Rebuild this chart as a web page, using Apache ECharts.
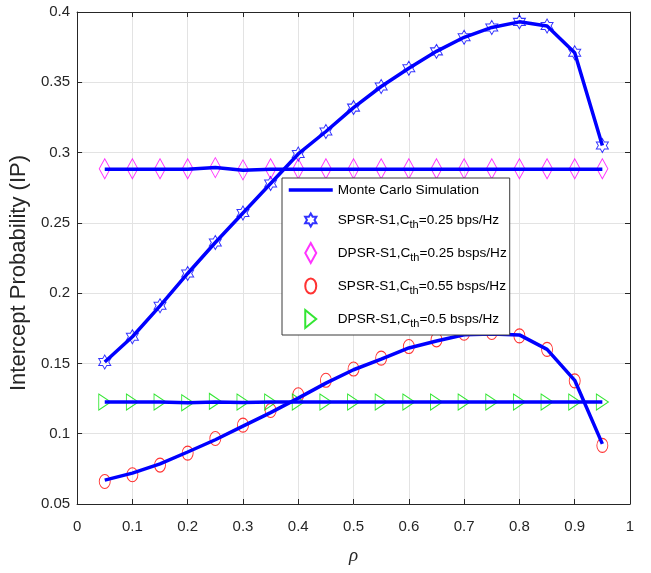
<!DOCTYPE html>
<html>
<head>
<meta charset="utf-8">
<script src="https://cdn.jsdelivr.net/npm/echarts@6/dist/echarts.min.js"></script>
<style>html,body{margin:0;padding:0;background:#fff;}#c{width:651px;height:573px;}</style>
</head>
<body>
<div id="c"></div>
<script>
var rho = [0.05,0.1,0.15,0.2,0.25,0.3,0.35,0.4,0.45,0.5,0.55,0.6,0.65,0.7,0.75,0.8,0.85,0.9,0.95];
var xTicks = ['0','0.1','0.2','0.3','0.4','0.5','0.6','0.7','0.8','0.9','1'];
// analytical (markers)
var spsr025 = [0.151,0.169,0.191,0.214,0.236,0.257,0.278,0.299,0.315,0.332,0.347,0.360,0.372,0.382,0.389,0.393,0.390,0.371,0.305];
var dpsr025 = [0.2885,0.2885,0.2885,0.2885,0.2893,0.2877,0.2885,0.2885,0.2885,0.2885,0.2885,0.2885,0.2885,0.2885,0.2885,0.2885,0.2885,0.2885,0.2885];
var spsr055 = [0.066,0.0708,0.0777,0.0862,0.0966,0.1061,0.1165,0.1277,0.138,0.146,0.1538,0.162,0.1668,0.1715,0.172,0.1696,0.160,0.1376,0.0917];
var dpsr05 = [0.1225,0.1225,0.1225,0.122,0.123,0.1225,0.1225,0.1225,0.1225,0.1225,0.1225,0.1225,0.1225,0.1225,0.1225,0.1225,0.1225,0.1225,0.1225];
// Monte Carlo simulation (lines)
var simSpsr025 = [0.151,0.169,0.191,0.214,0.236,0.257,0.278,0.299,0.315,0.332,0.347,0.360,0.372,0.382,0.389,0.393,0.390,0.371,0.305];
var simDpsr025 = [0.2882,0.2882,0.2882,0.2882,0.2893,0.2875,0.2882,0.2882,0.2882,0.2882,0.2882,0.2882,0.2882,0.2882,0.2882,0.2882,0.2882,0.2882,0.2882];
var simSpsr055 = [0.067,0.072,0.0786,0.087,0.0957,0.1054,0.115,0.1253,0.136,0.1455,0.153,0.161,0.166,0.1704,0.171,0.1703,0.160,0.138,0.0928];
var simDpsr05 = [0.1225,0.1225,0.1225,0.122,0.1225,0.1222,0.1225,0.1225,0.1225,0.1225,0.1225,0.1225,0.1225,0.1225,0.1225,0.1225,0.1225,0.1225,0.1225];

var legendNames = ['Monte Carlo Simulation','SPSR-S1,C_th=0.25 bps/Hz','DPSR-S1,C_th=0.25 bsps/Hz','SPSR-S1,C_th=0.55 bsps/Hz','DPSR-S1,C_th=0.5 bsps/Hz'];

var FONT = "'Liberation Sans',Arial,sans-serif";
// plot markers
var hexagram = 'path://M0,-10 L2.887,-5 L8.66,-5 L5.774,0 L8.66,5 L2.887,5 L0,10 L-2.887,5 L-8.66,5 L-5.774,0 L-8.66,-5 L-2.887,-5 Z';
var diamondP = 'path://M0,-10 L5.5,0 L0,10 L-5.5,0 Z';
var ellipseP = 'path://M0,-7 A5.5,7 0 1 1 0,7 A5.5,7 0 1 1 0,-7 Z';
var triP = 'path://M0,0 L12,8 L0,16 Z';
// legend icons (invisible moveTo points set the 20px box)
var lgStar = 'path://M0,-6.5 L1.877,-3.25 L5.629,-3.25 L3.753,0 L5.629,3.25 L1.877,3.25 L0,6.5 L-1.877,3.25 L-5.629,3.25 L-3.753,0 L-5.629,-3.25 L-1.877,-3.25 Z M0,-10 M0,10';
var lgDiamond = 'path://M0,-10 L5.5,0 L0,10 L-5.5,0 Z';
var lgEllipse = 'path://M0,-7.5 A5.5,7.5 0 1 1 0,7.5 A5.5,7.5 0 1 1 0,-7.5 Z M0,-10 M0,10';
var lgTri = 'path://M-5.5,-9 L5.5,0 L-5.5,9 Z M0,-10 M0,10';

function pairs(ys){ return ys.map(function(v,i){ return [rho[i], v]; }); }

var chart = echarts.init(document.getElementById('c'), null, {renderer:'canvas'});
var lineStyle = {color:'#0000ff', width:3.5};
function simLine(d){
  return {name:legendNames[0], type:'line', data:pairs(d), showSymbol:false, symbol:'none', lineStyle:lineStyle, itemStyle:{color:'#0000ff'}, z:3, silent:true, animation:false};
}
function marks(name, d, sym, size, col){
  return {name:name, type:'scatter', data:pairs(d), symbol:sym, symbolSize:size, symbolKeepAspect:false,
    itemStyle:{color:'rgba(0,0,0,0)', borderColor:col, borderWidth:1}, z:2, animation:false};
}
var axisCol = '#262626';
var option = {
  backgroundColor:'#fff',
  animation:false,
  grid:{left:73, right:21, top:12, bottom:69, containLabel:false},
  xAxis:[{
    type:'value', min:0, max:1, interval:0.1,
    axisLine:{show:true, onZero:false, lineStyle:{color:axisCol, width:1}},
    axisTick:{show:true, inside:true, length:5, lineStyle:{color:axisCol}},
    axisLabel:{color:axisCol, fontSize:15, fontFamily:FONT, margin:15, formatter:function(v){ return xTicks[Math.round(v*10)]; }},
    splitLine:{show:true, lineStyle:{color:'#e3e3e3', width:1}},
    name:'ρ', nameLocation:'middle', nameGap:42,
    nameTextStyle:{fontSize:19, fontStyle:'italic', fontFamily:"'Liberation Serif','DejaVu Serif',serif", color:axisCol}
  },{
    type:'value', position:'top', min:0, max:1, interval:0.1,
    axisLine:{show:true, onZero:false, lineStyle:{color:axisCol, width:1}},
    axisTick:{show:true, inside:true, length:5, lineStyle:{color:axisCol}},
    axisLabel:{show:false}, splitLine:{show:false}
  }],
  yAxis:[{
    type:'value', min:0.05, max:0.4, interval:0.05,
    axisLine:{show:true, onZero:false, lineStyle:{color:axisCol, width:1}},
    axisTick:{show:true, inside:true, length:5, lineStyle:{color:axisCol}},
    axisLabel:{color:axisCol, fontSize:15, fontFamily:FONT, margin:7},
    splitLine:{show:true, lineStyle:{color:'#e3e3e3', width:1}},
    name:'Intercept Probability (IP)', nameLocation:'middle', nameGap:32,
    nameTextStyle:{fontSize:22, fontFamily:FONT, color:axisCol, padding:[0,30,0,0]}
  },{
    type:'value', position:'right', min:0.05, max:0.4, interval:0.05,
    axisLine:{show:true, onZero:false, lineStyle:{color:axisCol, width:1}},
    axisTick:{show:true, inside:true, length:5, lineStyle:{color:axisCol}},
    axisLabel:{show:false}, splitLine:{show:false}
  }],
  legend:{
    orient:'vertical', left:282, top:178,
    padding:[4,3,5,5], itemGap:11, itemWidth:44, itemHeight:20,
    backgroundColor:'#fff', borderColor:'#3a3a3a', borderWidth:1,
    data:[
      {name:legendNames[0], itemStyle:{opacity:0}, lineStyle:{width:3.5, color:'#0000ff'}},
      {name:legendNames[1], icon:lgStar},
      {name:legendNames[2], icon:lgDiamond},
      {name:legendNames[3], icon:lgEllipse},
      {name:legendNames[4], icon:lgTri}
    ],
    textStyle:{fontSize:13.6, fontFamily:FONT, color:'#000',
      rich:{ s:{fontSize:11, fontFamily:FONT, color:'#000', padding:[9,0,0,0]} }},
    formatter:function(n){ return n.replace('C_th','C{s|th}'); },
    selectedMode:false
  },
  series:[
    simLine(simSpsr025), simLine(simDpsr025), simLine(simSpsr055), simLine(simDpsr05),
    marks(legendNames[1], spsr025, hexagram, [12,14], '#0000ff'),
    marks(legendNames[2], dpsr025, diamondP, [11,20], '#ff00ff'),
    marks(legendNames[3], spsr055, ellipseP, [11,14], '#ff0000'),
    marks(legendNames[4], dpsr05, triP, [12,16], '#00e000')
  ]
};
chart.setOption(option);
</script>
</body>
</html>
